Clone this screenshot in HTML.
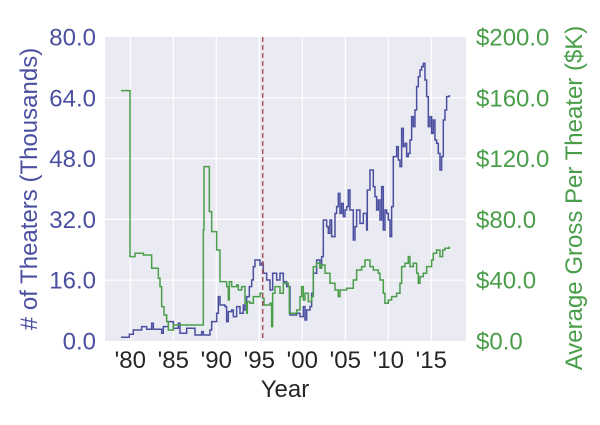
<!DOCTYPE html>
<html><head><style>
html,body{margin:0;padding:0;background:#fff;}
svg text{font-family:"Liberation Sans",Arial,sans-serif;}
</style></head><body>
<svg width="600" height="420" viewBox="0 0 600 420" xmlns="http://www.w3.org/2000/svg">
<rect x="105" y="37" width="361" height="304" fill="#eaeaf2"/>
<g stroke="#fff" stroke-width="1.2">
<line x1="105" x2="466" y1="97.8" y2="97.8"/><line x1="105" x2="466" y1="158.6" y2="158.6"/>
<line x1="105" x2="466" y1="219.4" y2="219.4"/><line x1="105" x2="466" y1="280.2" y2="280.2"/>
<line x1="130.3" x2="130.3" y1="37" y2="341"/><line x1="173.3" x2="173.3" y1="37" y2="341"/>
<line x1="216.3" x2="216.3" y1="37" y2="341"/><line x1="259.3" x2="259.3" y1="37" y2="341"/>
<line x1="302.3" x2="302.3" y1="37" y2="341"/><line x1="345.3" x2="345.3" y1="37" y2="341"/>
<line x1="388.3" x2="388.3" y1="37" y2="341"/><line x1="431.3" x2="431.3" y1="37" y2="341"/>
</g>
<g transform="translate(90,20) scale(0.3333)" fill="none" stroke-width="4.5">
<path stroke="#4a4fa0" d="M93 952 H118 V943 H130 V930 H155 V920 H170 V928 H185 V910 H190 V928 H215 V940 H220 V920 H235 V905 H250 V925 H265 V910 H270 V940 H290 V925 H315 V945 H335 V935 H340 V945 H360 V930 H365 V905 H380 V880 H385 V830 H390 V855 H405 V860 H410 V905 H415 V875 H425 V870 H430 V890 H440 V860 H450 V880 H460 V855 H465 V870 H470 V830 H478 V800 H485 V780 H490 V740 H495 V720 H510 V735 H515 V730 H520 V760 H530 V780 H540 V810 H548 V760 H560 V780 H570 V760 H580 V785 H590 V800 H600 V885 H620 V880 H630 V890 H640 V860 H645 V900 H650 V870 H660 V860 H665 V820 H670 V760 H680 V720 H690 V740 H695 V710 H700 V600 H710 V620 H715 V640 H720 V600 H725 V650 H735 V580 H740 V560 H745 V520 H750 V580 H755 V550 H760 V590 H765 V570 H770 V560 H775 V510 H780 V570 H790 V660 H795 V620 H800 V570 H810 V610 H820 V580 H830 V630 H832 V510 H840 V450 H850 V500 H855 V530 H860 V570 H865 V540 H870 V600 H875 V500 H880 V630 H885 V570 H890 V580 H895 V600 H900 V650 H905 V560 H910 V410 H920 V380 H925 V420 H930 V440 H935 V325 H940 V380 H945 V370 H950 V410 H955 V400 H960 V360 H965 V290 H970 V320 H975 V270 H980 V200 H985 V170 H990 V150 H995 V140 H1000 V130 H1005 V180 H1010 V230 H1015 V320 H1020 V290 H1025 V340 H1030 V300 H1035 V360 H1040 V370 H1045 V400 H1050 V450 H1055 V410 H1060 V300 H1065 V270 H1070 V230 H1078 V225"/>
<path stroke="#4a9e4a" d="M93 212 H120 V710 H135 V700 H160 V705 H185 V745 H205 V775 H210 V800 H215 V860 H222 V885 H230 V905 H235 V930 H250 V915 H340 V630 H342 V440 H358 V575 H365 V635 H380 V690 H390 V785 H410 V800 H415 V840 H418 V785 H425 V800 H440 V795 H445 V810 H455 V800 H465 V850 H470 V880 H472 V845 H480 V850 H490 V830 H500 V830 H510 V820 H518 V835 H522 V855 H540 V850 H545 V920 H548 V820 H555 V800 H570 V820 H580 V790 H595 V800 H598 V880 H620 V870 H630 V830 H635 V800 H640 V840 H645 V820 H655 V845 H665 V830 H670 V740 H680 V730 H690 V745 H695 V735 H705 V760 H720 V790 H735 V810 H745 V830 H750 V810 H770 V805 H790 V780 H800 V750 H815 V740 H825 V720 H840 V740 H850 V750 H865 V760 H870 V780 H880 V820 H885 V850 H895 V840 H905 V830 H920 V820 H930 V790 H935 V740 H945 V730 H955 V710 H960 V740 H970 V730 H980 V760 H985 V790 H990 V770 H1000 V760 H1010 V740 H1025 V720 H1030 V700 H1040 V690 H1050 V710 H1058 V690 H1065 V685 H1078 V680"/>
</g>
<line x1="262.7" x2="262.7" y1="37" y2="341" stroke="#a8545a" stroke-width="1.5" stroke-dasharray="5,3"/>
<g font-size="24" fill="#4a4fa0" text-anchor="end">
<text x="96" y="45.5">80.0</text><text x="96" y="106.5">64.0</text><text x="96" y="167">48.0</text>
<text x="96" y="228">32.0</text><text x="96" y="288.5">16.0</text><text x="96" y="349.5">0.0</text>
</g>
<g font-size="24" fill="#4a9e4a">
<text x="476" y="45.5">$200.0</text><text x="476" y="106.5">$160.0</text><text x="476" y="167">$120.0</text>
<text x="476" y="228">$80.0</text><text x="476" y="288.5">$40.0</text><text x="476" y="349.5">$0.0</text>
</g>
<g font-size="24" fill="#262626" text-anchor="middle">
<text x="130.3" y="368">'80</text><text x="173.3" y="368">'85</text><text x="216.3" y="368">'90</text>
<text x="259.3" y="368">'95</text><text x="302.3" y="368">'00</text><text x="345.3" y="368">'05</text>
<text x="388.3" y="368">'10</text><text x="431.3" y="368">'15</text>
<text x="285" y="397">Year</text>
</g>
<text transform="translate(37,189) rotate(-90)" font-size="24" fill="#4a4fa0" text-anchor="middle"># of Theaters (Thousands)</text>
<text transform="translate(582,198) rotate(-90)" font-size="24" fill="#4a9e4a" text-anchor="middle">Average Gross Per Theater ($K)</text>
</svg>
</body></html>
